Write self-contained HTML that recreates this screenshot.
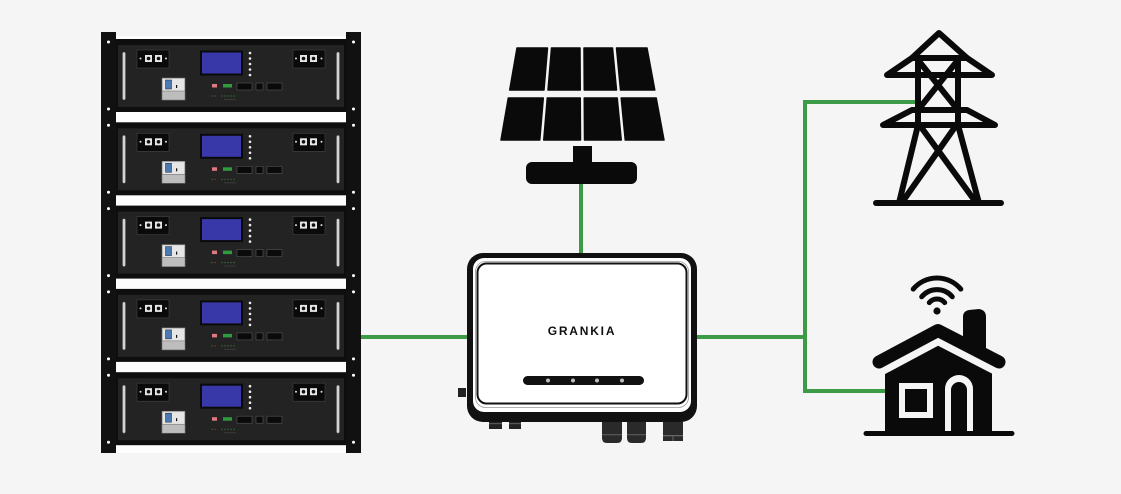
<!DOCTYPE html>
<html><head><meta charset="utf-8"><style>
html,body{margin:0;padding:0;background:#f5f5f5;}
svg{display:block;}
</style></head><body>
<svg width="1121" height="494" viewBox="0 0 1121 494" xmlns="http://www.w3.org/2000/svg">
<rect x="0" y="0" width="1121" height="494" fill="#f5f5f5"/>
<defs>
<g id="mod">
  <rect x="116" y="39" width="230" height="73" fill="#0e0e0e"/>
  <rect x="118" y="45" width="226" height="62" fill="#232323"/>
  <rect x="122.5" y="52" width="3" height="48" rx="1.5" fill="#d4d4d4" stroke="#555" stroke-width="0.5"/>
  <rect x="336.5" y="52" width="3" height="48" rx="1.5" fill="#d4d4d4" stroke="#555" stroke-width="0.5"/>
  <rect x="137" y="50" width="32" height="18" fill="#0a0a0a" stroke="#444" stroke-width="0.6"/>
  <rect x="145" y="55" width="7" height="7" fill="#e6e6e6"/>
  <rect x="155" y="55" width="7" height="7" fill="#e6e6e6"/>
  <circle cx="148.5" cy="58.5" r="1.8" fill="#111"/>
  <circle cx="158.5" cy="58.5" r="1.8" fill="#111"/>
  <circle cx="140.5" cy="58.5" r="1" fill="#ddd"/>
  <circle cx="166" cy="58.5" r="1" fill="#ddd"/>
  <rect x="293" y="50" width="32" height="18" fill="#0a0a0a" stroke="#444" stroke-width="0.6"/>
  <rect x="300" y="55" width="7" height="7" fill="#e6e6e6"/>
  <rect x="310" y="55" width="7" height="7" fill="#e6e6e6"/>
  <circle cx="303.5" cy="58.5" r="1.8" fill="#111"/>
  <circle cx="313.5" cy="58.5" r="1.8" fill="#111"/>
  <circle cx="296" cy="58.5" r="1" fill="#ddd"/>
  <circle cx="321.5" cy="58.5" r="1" fill="#ddd"/>
  <rect x="200" y="50.5" width="43" height="25" fill="#0a0a0a"/>
  <rect x="202" y="52.5" width="39" height="21" fill="#3838a8"/>
  <circle cx="250" cy="53" r="1.3" fill="#eee"/>
  <circle cx="250" cy="58.5" r="1.3" fill="#eee"/>
  <circle cx="250" cy="64" r="1.3" fill="#eee"/>
  <circle cx="250" cy="69.5" r="1.3" fill="#eee"/>
  <circle cx="250" cy="75" r="1.3" fill="#eee"/>
  <rect x="162" y="78" width="23" height="22" fill="#cfcfcf" stroke="#777" stroke-width="0.5"/>
  <rect x="163" y="79" width="21" height="12" fill="#e6e6e6"/>
  <rect x="165.5" y="80" width="6" height="9" fill="#4a7ab0" stroke="#223" stroke-width="0.5"/>
  <rect x="176" y="85" width="1.2" height="3" fill="#111"/>
  <rect x="162" y="91" width="23" height="9" fill="#bdbdbd" stroke="#666" stroke-width="0.5"/>
  <rect x="212" y="84" width="5" height="3.5" fill="#e07a80"/>
  <rect x="223" y="84" width="9" height="3.5" fill="#2f9a3e"/>
  <rect x="237" y="83" width="15" height="7" fill="#0a0a0a" stroke="#555" stroke-width="0.6"/>
  <rect x="256" y="83" width="7" height="7" fill="#0a0a0a" stroke="#555" stroke-width="0.6"/>
  <rect x="267" y="83" width="15" height="7" fill="#0a0a0a" stroke="#555" stroke-width="0.6"/>
  <circle cx="212" cy="96" r="0.6" fill="#3a8a3a"/>
  <circle cx="215" cy="96" r="0.6" fill="#b04040"/>
  <circle cx="222" cy="96" r="0.6" fill="#3a8a3a"/>
  <circle cx="225" cy="96" r="0.6" fill="#3a8a3a"/>
  <circle cx="228" cy="96" r="0.6" fill="#3a8a3a"/>
  <circle cx="231" cy="96" r="0.6" fill="#3a8a3a"/>
  <circle cx="234" cy="96" r="0.6" fill="#3a8a3a"/>
  <rect x="224" y="99" width="12" height="1" fill="#3a3a3a"/>
  <circle cx="108.5" cy="42" r="1.5" fill="#fff"/>
  <circle cx="108.5" cy="109" r="1.5" fill="#fff"/>
  <circle cx="353.5" cy="42" r="1.5" fill="#fff"/>
  <circle cx="353.5" cy="109" r="1.5" fill="#fff"/>
</g>
</defs>

<!-- rack -->
<rect x="116" y="36" width="230" height="417" fill="#fdfdfd"/>
<rect x="101" y="32" width="15" height="421" fill="#111"/>
<rect x="346" y="32" width="15" height="421" fill="#111"/>
<use href="#mod"/>
<use href="#mod" transform="translate(0,83.3)"/>
<use href="#mod" transform="translate(0,166.6)"/>
<use href="#mod" transform="translate(0,249.9)"/>
<use href="#mod" transform="translate(0,333.2)"/>

<!-- green connectors -->
<g stroke="#3d9a47" stroke-width="4" fill="none">
  <path d="M361 337 H468"/>
  <path d="M581 182 V254"/>
  <path d="M696 337 H805"/>
  <path d="M805 100 V393"/>
  <path d="M803 102 H918"/>
  <path d="M803 391 H888"/>
</g>

<!-- solar panel -->
<g fill="#0a0a0a" stroke="#0a0a0a" stroke-width="1.5" stroke-linejoin="round">
  <polygon points="517,48 547.5,48 544,90 509.7,90"/>
  <polygon points="551.5,48 580,48 580.25,90 548,90"/>
  <polygon points="584,48 612.5,48 616.5,90 584.25,90"/>
  <polygon points="616.5,48 647,48 654.8,90 620.5,90"/>
  <polygon points="508.3,98 543.3,98 539.75,140 501,140"/>
  <polygon points="547.3,98 580.25,98 580.5,140 543.75,140"/>
  <polygon points="584.25,98 617.2,98 621.25,140 584.5,140"/>
  <polygon points="621.2,98 656.2,98 664,140 625.25,140"/>
</g>
<rect x="573" y="146" width="19" height="20" fill="#0a0a0a"/>
<rect x="526" y="162" width="111" height="22" rx="6" fill="#0a0a0a"/>

<!-- inverter -->
<rect x="458" y="388" width="8" height="9" fill="#222"/>
<rect x="489" y="419" width="13" height="10" fill="#222"/>
<rect x="489" y="423" width="13" height="1.2" fill="#555"/>
<rect x="509" y="419" width="12" height="10" fill="#222"/>
<rect x="509" y="423" width="12" height="1.2" fill="#555"/>
<path d="M602 418 H622 V438 Q622 443 617 443 H607 Q602 443 602 438 Z" fill="#2a2a2a"/>
<rect x="602" y="434" width="20" height="1.3" fill="#555"/>
<path d="M627 418 H646 V438 Q646 443 641 443 H632 Q627 443 627 438 Z" fill="#2a2a2a"/>
<rect x="627" y="434" width="19" height="1.3" fill="#555"/>
<rect x="663" y="418" width="20" height="23" fill="#2a2a2a"/>
<rect x="663" y="435" width="20" height="1.3" fill="#666"/>
<rect x="672.5" y="435" width="1" height="6" fill="#666"/>
<rect x="467" y="253" width="230" height="169" rx="16" fill="#111"/>
<rect x="473" y="258" width="218" height="154" rx="11" fill="#fff"/>
<rect x="477.5" y="263.5" width="209" height="140" rx="9" fill="none" stroke="#111" stroke-width="2"/>
<rect x="475.5" y="261.5" width="213" height="146" rx="10" fill="none" stroke="#999" stroke-width="0.8"/>
<text x="582" y="335" text-anchor="middle" font-family="Liberation Sans, sans-serif" font-weight="bold" font-size="12" letter-spacing="1.8" fill="#111">GRANKIA</text>
<rect x="523" y="376" width="121" height="9" rx="4.5" fill="#111"/>
<circle cx="548" cy="380.5" r="2" fill="#bbb"/>
<circle cx="573" cy="380.5" r="2" fill="#bbb"/>
<circle cx="597" cy="380.5" r="2" fill="#bbb"/>
<circle cx="622" cy="380.5" r="2" fill="#bbb"/>

<!-- tower -->
<g stroke="#0a0a0a" stroke-width="6" stroke-linecap="round" stroke-linejoin="round" fill="none">
  <path d="M912 58 L939 33 L967 58"/>
  <path d="M912 58 H967 L992 75 H887 Z"/>
  <path d="M918 58 V125 M958 58 V125"/>
  <path d="M918 60 L958 110 M958 60 L918 110"/>
  <path d="M912 110 H967 L995 125 H883 Z"/>
  <path d="M918 125 L899 203 M958 125 L979 203"/>
  <path d="M921 127 L975 201 M955 127 L903 201"/>
  <path d="M876 203 H1001"/>
</g>

<!-- house -->
<polygon points="885,432 885,372 938,340 992,372 992,432" fill="#0a0a0a"/>
<polyline points="879,362 938,330.5 999,362" fill="none" stroke="#f5f5f5" stroke-width="27" stroke-linecap="round" stroke-linejoin="round"/>
<path d="M963 350 V317 Q963 311 969 310 L979 309 Q986 310 986 317 V350 Z" fill="#0a0a0a"/>
<polyline points="879,362 938,330.5 999,362" fill="none" stroke="#0a0a0a" stroke-width="13" stroke-linecap="round" stroke-linejoin="round"/>
<rect x="899" y="383" width="34" height="35" fill="#f5f5f5"/>
<rect x="905" y="389" width="22" height="23" fill="#0a0a0a"/>
<path d="M945 432 V389 A14 14 0 0 1 973 389 V432 Z" fill="#f5f5f5"/>
<path d="M951 432 V390 A8 8 0 0 1 967 390 V432 Z" fill="#0a0a0a"/>
<path d="M866 433.5 H1012" stroke="#0a0a0a" stroke-width="5" stroke-linecap="round"/>
<g stroke="#0a0a0a" stroke-width="5" stroke-linecap="round" fill="none">
  <path d="M913.2 289.1 A31 31 0 0 1 960.8 289.1"/>
  <path d="M921.7 296.8 A20 20 0 0 1 952.3 296.8"/>
  <path d="M929.3 302.6 A10 10 0 0 1 944.7 302.6"/>
</g>
<circle cx="937" cy="311" r="3.6" fill="#0a0a0a"/>
</svg>
</body></html>
